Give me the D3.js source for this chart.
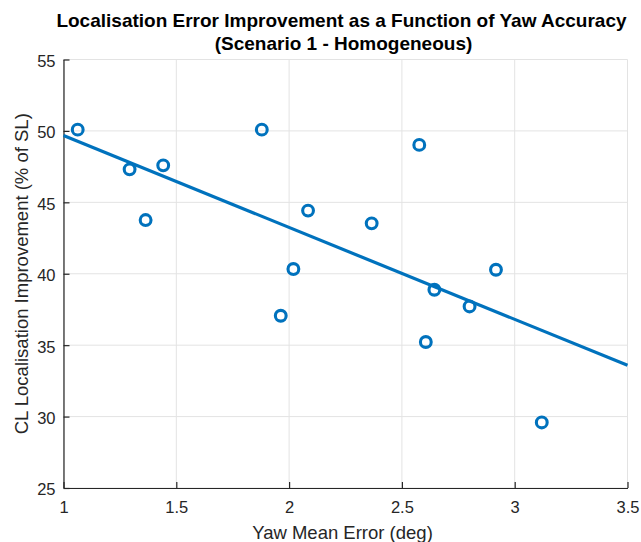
<!DOCTYPE html>
<html><head><meta charset="utf-8">
<script src="https://cdn.jsdelivr.net/npm/d3@7"></script>
<style>
html,body{margin:0;padding:0;background:#fff;}
svg{display:block;font-family:"Liberation Sans",Arial,Helvetica,sans-serif;}
</style></head>
<body>
<svg id="chart" width="641" height="542"></svg>
<script>
const yawError = [1.063, 1.293, 1.364, 1.442, 1.879, 1.963, 2.019, 2.084, 2.366, 2.577, 2.606, 2.644, 2.800, 2.917, 3.120];
const improvement = [50.09, 47.31, 43.76, 47.59, 50.09, 37.06, 40.33, 44.42, 43.53, 49.02, 35.22, 38.88, 37.71, 40.28, 29.59];
const xTicks = [1, 1.5, 2, 2.5, 3, 3.5];
const yTicks = [25, 30, 35, 40, 45, 50, 55];
const titleLines = ["Localisation Error Improvement as a Function of Yaw Accuracy", "(Scenario 1 - Homogeneous)"];
const xLabel = "Yaw Mean Error (deg)";
const yLabel = "CL Localisation Improvement (% of SL)";

const svg = d3.select("#chart");
const L = 63.5, R = 627.5, T = 59.5, B = 488;
const x = d3.scaleLinear().domain([1, 3.5]).range([L, R]);
const y = d3.scaleLinear().domain([25, 55]).range([B, T]);
const blue = "#0072BD";
const txt = "#262626";

// grid
const g = svg.append("g");
g.selectAll(".gx").data(xTicks).join("line")
  .attr("x1", d => x(d)).attr("x2", d => x(d)).attr("y1", T).attr("y2", B)
  .attr("stroke", "#e3e3e3").attr("stroke-width", 1);
g.selectAll(".gy").data(yTicks).join("line")
  .attr("x1", L).attr("x2", R).attr("y1", d => y(d)).attr("y2", d => y(d))
  .attr("stroke", "#e3e3e3").attr("stroke-width", 1);

// axes
const xAxis = d3.axisBottom(x).tickValues(xTicks).tickSizeInner(-6).tickSizeOuter(0).tickPadding(13).tickFormat(d3.format("~g"));
const yAxis = d3.axisLeft(y).tickValues(yTicks).tickSizeInner(-6).tickSizeOuter(0).tickPadding(8).tickFormat(d3.format("~g"));
const gx = svg.append("g").attr("transform", `translate(0,${B})`).call(xAxis);
const gy = svg.append("g").attr("transform", `translate(${L},0)`).call(yAxis);
[gx, gy].forEach(a => {
  a.select(".domain").attr("stroke", txt).attr("stroke-width", 1.2);
  a.selectAll(".tick line").attr("stroke", txt).attr("stroke-width", 1.2);
  a.selectAll(".tick text").attr("fill", txt).style("font-size", "16.5px").style("font-family", "'Liberation Sans',Arial,sans-serif");
});
gy.selectAll(".tick text").attr("dy", "0.42em");

// regression fit
const mx = d3.mean(yawError), my = d3.mean(improvement);
let sxy = 0, sxx = 0;
yawError.forEach((v, i) => { sxy += (v - mx) * (improvement[i] - my); sxx += (v - mx) * (v - mx); });
const slope = sxy / sxx, icpt = my - slope * mx;
const fitX = x.domain();
svg.append("line")
  .attr("x1", x(fitX[0])).attr("y1", y(icpt + slope * fitX[0]))
  .attr("x2", x(fitX[1])).attr("y2", y(icpt + slope * fitX[1]))
  .attr("stroke", blue).attr("stroke-width", 3.2);

// points
svg.append("g").selectAll("circle").data(yawError).join("circle")
  .attr("cx", d => x(d)).attr("cy", (d, i) => y(improvement[i]))
  .attr("r", 5.4).attr("fill", "none").attr("stroke", blue).attr("stroke-width", 3.1);

// title
svg.append("text").attr("x", (L + R) / 2 - 4).attr("y", 27).attr("text-anchor", "middle")
  .style("font-weight", "bold").style("font-size", "19px").attr("fill", "#000").text(titleLines[0]);
svg.append("text").attr("x", (L + R) / 2 - 2).attr("y", 50).attr("text-anchor", "middle")
  .style("font-weight", "bold").style("font-size", "19px").attr("fill", "#000").text(titleLines[1]);

// axis labels
svg.append("text").attr("x", (L + R) / 2 - 3).attr("y", 538.5).attr("text-anchor", "middle")
  .style("font-size", "18.5px").attr("fill", txt).text(xLabel);
svg.append("text").attr("transform", `translate(27.5,${(T + B) / 2}) rotate(-90)`).attr("text-anchor", "middle")
  .style("font-size", "18.5px").attr("fill", txt).text(yLabel);
</script>
</body></html>
